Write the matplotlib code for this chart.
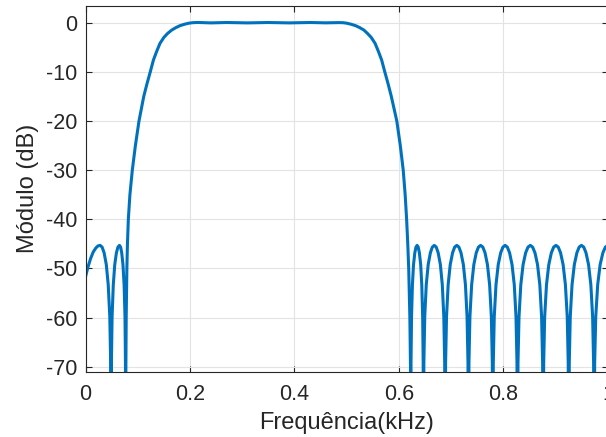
import numpy as np
import matplotlib
matplotlib.use("Agg")
import matplotlib.pyplot as plt

# frequency response (kHz, dB); nulls set to -100 (clipped by axis)
low_stop_f = [0.0, 0.005, 0.010, 0.015, 0.020, 0.024, 0.028, 0.0318, 0.0356, 0.0398, 0.0435, 0.0465, 0.0482, 0.049,
              0.0496, 0.0509, 0.0532, 0.0560, 0.0592, 0.0621, 0.065, 0.0672, 0.0693, 0.0717, 0.0739, 0.0756, 0.0765, 0.077]
low_stop_db = [-51.7, -49.6, -47.9, -46.6, -45.8, -45.4, -45.3, -45.65, -46.8, -49.2, -53.3, -59.8, -69.3, -100,
               -69.3, -59.8, -53.3, -49.2, -46.8, -45.65, -45.3, -45.65, -46.8, -49.2, -53.3, -59.8, -69.3, -100]

trans_low_f = [0.0773, 0.0779, 0.0792, 0.0803, 0.0820, 0.0850, 0.0896, 0.0955, 0.1024, 0.1115, 0.1175, 0.1240,
               0.1300, 0.1360, 0.1426, 0.1500, 0.1570, 0.1650, 0.1730, 0.1810, 0.1900, 0.1980, 0.2050]
trans_low_db = [-70.0, -60.0, -50.0, -45.0, -40.0, -35.0, -30.0, -25.0, -20.0, -15.0, -12.5, -10.0,
                -7.6, -5.9, -4.2, -3.0, -2.2, -1.5, -1.0, -0.6, -0.3, -0.1, 0.0]

pass_f = [0.215, 0.24, 0.27, 0.31, 0.35, 0.39, 0.43, 0.46, 0.485]
pass_db = [0.05, -0.04, 0.04, -0.04, 0.04, -0.04, 0.04, -0.03, 0.02]

trans_high_f = [0.493, 0.500, 0.508, 0.517, 0.525, 0.533, 0.540, 0.547, 0.5544, 0.561, 0.567, 0.573,
                0.5795, 0.5855, 0.596, 0.6027, 0.6083, 0.6120, 0.6148, 0.6170, 0.6188, 0.6210, 0.6222, 0.6227]
trans_high_db = [0.0, -0.1, -0.3, -0.6, -1.0, -1.5, -2.2, -3.0, -4.2, -5.9, -7.6, -10.0,
                 -12.5, -15.0, -20.0, -25.0, -30.0, -35.0, -40.0, -45.0, -50.0, -60.0, -70.0, -100]

high_stop_f = [
    0.6232, 0.6242, 0.6259, 0.6280, 0.6305, 0.6327, 0.6349, 0.6370, 0.6392, 0.6417, 0.6438, 0.6455, 0.6465, 0.6470,
    0.6478, 0.6495, 0.6524, 0.6561, 0.6603, 0.6640, 0.6678, 0.6715, 0.6752, 0.6794, 0.6831, 0.6860, 0.6877, 0.6885,
    0.6894, 0.6912, 0.6943, 0.6983, 0.7028, 0.7068, 0.7109, 0.7149, 0.7189, 0.7234, 0.7274, 0.7305, 0.7323, 0.7332,
    0.7341, 0.7360, 0.7393, 0.7435, 0.7481, 0.7523, 0.7565, 0.7607, 0.7649, 0.7695, 0.7737, 0.7770, 0.7789, 0.7798,
    0.7807, 0.7826, 0.7859, 0.7902, 0.7949, 0.7992, 0.8034, 0.8076, 0.8119, 0.8166, 0.8209, 0.8242, 0.8261, 0.8270,
    0.8280, 0.8300, 0.8334, 0.8378, 0.8427, 0.8472, 0.8516, 0.8560, 0.8605, 0.8654, 0.8698, 0.8732, 0.8752, 0.8762,
    0.8772, 0.8791, 0.8826, 0.8870, 0.8919, 0.8963, 0.9007, 0.9051, 0.9095, 0.9144, 0.9188, 0.9223, 0.9242, 0.9252,
    0.9262, 0.9281, 0.9315, 0.9359, 0.9408, 0.9451, 0.9495, 0.9539, 0.9582, 0.9631, 0.9675, 0.9709, 0.9728, 0.9738,
    0.9748, 0.9769, 0.9806, 0.9853, 0.9906, 0.9953, 1.0000]
high_stop_db = [
    -69.3, -59.8, -53.3, -49.2, -46.8, -45.65, -45.3, -45.65, -46.8, -49.2, -53.3, -59.8, -69.3, -100,
    -69.3, -59.8, -53.3, -49.2, -46.8, -45.65, -45.3, -45.65, -46.8, -49.2, -53.3, -59.8, -69.3, -100,
    -69.3, -59.8, -53.3, -49.2, -46.8, -45.65, -45.3, -45.65, -46.8, -49.2, -53.3, -59.8, -69.3, -100,
    -69.3, -59.8, -53.3, -49.2, -46.8, -45.65, -45.3, -45.65, -46.8, -49.2, -53.3, -59.8, -69.3, -100,
    -69.3, -59.8, -53.3, -49.2, -46.8, -45.65, -45.3, -45.65, -46.8, -49.2, -53.3, -59.8, -69.3, -100,
    -69.3, -59.8, -53.3, -49.2, -46.8, -45.65, -45.3, -45.65, -46.8, -49.2, -53.3, -59.8, -69.3, -100,
    -69.3, -59.8, -53.3, -49.2, -46.8, -45.65, -45.3, -45.65, -46.8, -49.2, -53.3, -59.8, -69.3, -100,
    -69.3, -59.8, -53.3, -49.2, -46.8, -45.65, -45.3, -45.65, -46.8, -49.2, -53.3, -59.8, -69.3, -100,
    -69.3, -59.8, -53.3, -49.2, -46.8, -45.65, -45.3]

x_ticks = [0, 0.2, 0.4, 0.6, 0.8, 1]
x_ticklabels = ["0", "0.2", "0.4", "0.6", "0.8", "1"]
y_ticks = [0, -10, -20, -30, -40, -50, -60, -70]

freq = np.array(low_stop_f + trans_low_f + pass_f + trans_high_f + high_stop_f)
mag = np.array(low_stop_db + trans_low_db + pass_db + trans_high_db + high_stop_db)

plt.rcParams["font.family"] = ["Liberation Sans", "DejaVu Sans"]
plt.rcParams["axes.unicode_minus"] = False

dark = "#262626"
fig = plt.figure(figsize=(6.06, 4.37), dpi=100)
ax = fig.add_axes([0.1411, 0.1494, 0.8619, 0.8369])

ax.plot(freq, mag, color="#0072BD", lw=2.2, solid_joinstyle="round")

ax.set_xlim(0, 1)
ax.set_ylim(-71.0, 3.4)
ax.set_xticks(x_ticks)
ax.set_xticklabels(x_ticklabels)
ax.set_yticks(y_ticks)
ax.grid(True, color="#e3e3e3", lw=0.8)
ax.set_axisbelow(True)
ax.tick_params(direction="in", length=4, width=0.8, colors=dark, labelsize=15.5,
               top=True, right=True)
ax.tick_params(axis="x", pad=9)
ax.tick_params(axis="y", pad=6)
for s in ax.spines.values():
    s.set_color(dark)
    s.set_linewidth(0.8)

ax.set_xlabel("Frequência(kHz)", fontsize=17, color=dark, labelpad=5)
ax.set_ylabel("Módulo (dB)", fontsize=17, color=dark, labelpad=5)

fig.savefig("out.png", dpi=100)
